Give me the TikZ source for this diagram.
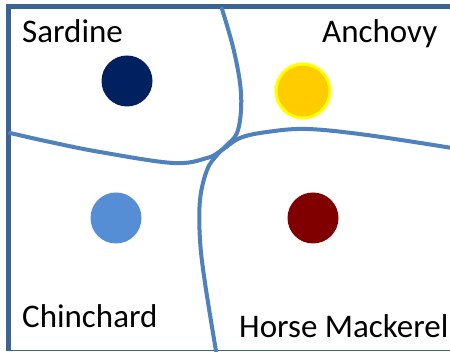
\documentclass[tikz,border=0pt]{standalone}
\usepackage{fontspec}
\setmainfont{Carlito}
\definecolor{frameblue}{HTML}{3A6496}
\definecolor{lineblue}{HTML}{4F81BD}
\definecolor{sardinec}{HTML}{002060}
\definecolor{anchovyc}{HTML}{FFCC00}
\definecolor{anchovyb}{HTML}{FFFF00}
\definecolor{chinc}{HTML}{558ED5}
\definecolor{horsec}{HTML}{800000}
\begin{document}
\begin{tikzpicture}[x=1pt,y=-1pt,
  lbl/.style={inner sep=0pt, anchor=base west, font=\fontsize{33}{37}\selectfont},
  border/.style={line width=5pt, draw=frameblue},
  zone/.style={line width=4pt, draw=lineblue, line cap=round},
  dot/.style={circle, inner sep=0pt, minimum size=51pt}]
\useasboundingbox (0,0) rectangle (450,352);
\fill[white] (0,0) rectangle (450,352);
% frame
\draw[border] (452,7) -- (8,7) -- (8,351);
\draw[line width=1.5pt, draw=frameblue] (8,350.5) -- (452,350.5);
% zone boundaries
\draw[zone] plot[smooth, tension=0.6] coordinates {(10,133) (50,142) (100,152) (173,163) (207,158) (222,150) (240,138) (267,132) (307,129) (367,135) (452,148)};
\draw[zone] plot[smooth, tension=0.6] coordinates {(222,9) (233,47) (240,83) (241,110) (237,133) (227,145) (217,155) (207,170) (200,200) (200,240) (205,283) (216,351)};
% dots
\node[dot, fill=sardinec] (sd) at (127,81) {};
\node[dot, fill=anchovyc, draw=anchovyb, line width=3pt, minimum size=54pt] (an) at (303,91) {};
\node[dot, fill=chinc] (ch) at (116,218) {};
\node[dot, fill=horsec] (hm) at (313,218) {};
% labels
\node[lbl] (tsd) at (22,43) {Sardine};
\node[lbl] (tan) at (322,43) {Anchovy};
\node[lbl] (tch) at (22,328) {Chinchard};
\node[lbl] (thm) at (239,338) {Horse Mackerel};
\end{tikzpicture}
\end{document}
